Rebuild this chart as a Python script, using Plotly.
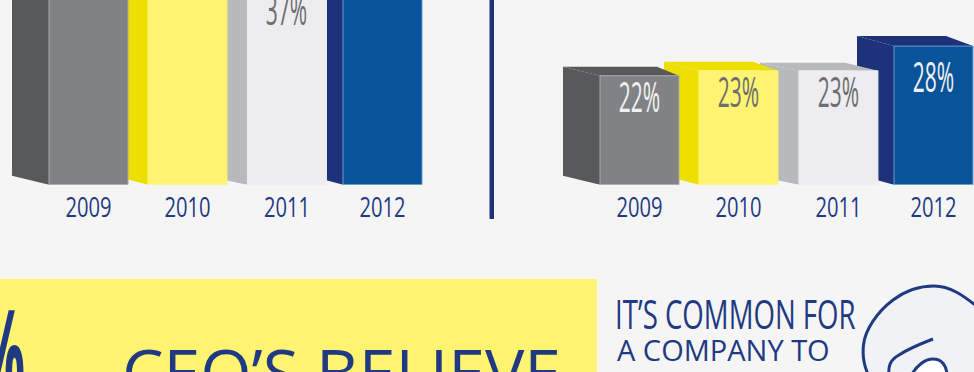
import json
import plotly.graph_objects as go

# Share of respondents per year, left and right panels
YEARS = [2009, 2010, 2011, 2012]
LEFT_VALUES = [41, 40, 37, 42]
RIGHT_VALUES = [22, 23, 23, 28]
LEFT_LABELS = [None, None, "37%", None]
RIGHT_LABELS = ["22%", "23%", "23%", "28%"]

# Small per-year shifts of the bars along the year axis
LEFT_SHIFT = [0.0, 0.01, 0.025, 0.0]
RIGHT_SHIFT = [0.0, 0.01, 0.03, 0.0]

FRONT = ["#808285", "#FFF471", "#EDEDF0", "#08549A"]
SIDE = ["#58595B", "#EDE000", "#B8B9BD", "#1D327A"]
EDGE = ["#A7A9AC", "#FFF471", "#EDEDF0", "#6F9BCB"]
TEXT_COLOR = ["#F1F1F2", "#6D6E71", "#6D6E71", "#F1F1F2"]
NAVY = "#1F3A82"
BG = "#F5F5F5"

W, H = 974, 372
BASE_PX = 184.7
PX_PER_YEAR = 98.0
BAR_PX = 79.0
DEPTH_LEFT_PX = [37, 35, 39, 37]
DEPTH_RIGHT_PX = [22, 25, 33, 27]
DEPTH_RISE_PX = [9, 9, 8, 10]
FONT = "Open Sans, sans-serif"

# Horizontal squeeze applied to text so it reads as a condensed face
SQUEEZE = {
    "2009": 0.72, "2010": 0.72, "2011": 0.72, "2012": 0.72,
    "22%": 0.5, "23%": 0.5, "28%": 0.5, "37%": 0.5,
    "IT’S COMMON FOR": 0.69,
    "%": 0.42,
}


def add_panel(fig, values, labels, drops, shift, scale, left_px, right_px, first_center_px, ax_base, ax_front):
    x_lo = YEARS[0] - (first_center_px - left_px) / PX_PER_YEAR
    x_hi = x_lo + (right_px - left_px) / PX_PER_YEAR
    y_hi = BASE_PX / scale
    dom_x = [left_px / W, right_px / W]
    dom_y = [(H - BASE_PX) / H, 1]
    half = BAR_PX / 2 / PX_PER_YEAR
    xs = [y + s for y, s in zip(YEARS, shift)]

    # Side and top faces, back to front so nearer boxes cover farther ones
    for i in reversed(range(4)):
        dl = DEPTH_LEFT_PX[i] / PX_PER_YEAR
        dr = DEPTH_RIGHT_PX[i] / PX_PER_YEAR
        rise = DEPTH_RISE_PX[i] / scale
        x0, x1 = xs[i] - half, xs[i] + half
        v = values[i]
        fig.add_trace(go.Scatter(
            x=[x0, x0, x0 - dl, x0 - dl, x0], y=[0, v, v + rise, rise, 0],
            mode="lines", fill="toself", fillcolor=SIDE[i], line=dict(width=0),
            hoverinfo="skip", showlegend=False,
            xaxis=ax_base[0], yaxis=ax_base[1]))
        fig.add_trace(go.Scatter(
            x=[x0, x1, x1 - dr, x0 - dl, x0], y=[v, v, v + rise, v + rise, v],
            mode="lines", fill="toself", fillcolor=SIDE[i], line=dict(width=0),
            hoverinfo="skip", showlegend=False,
            xaxis=ax_base[0], yaxis=ax_base[1]))

    # Front faces sit on an overlaid axis pair above the side faces
    fig.add_trace(go.Bar(
        x=xs, y=values, width=BAR_PX / PX_PER_YEAR,
        marker=dict(color=FRONT, line=dict(width=1, color=EDGE)),
        showlegend=False, xaxis=ax_front[0], yaxis=ax_front[1]))

    for name, overlay in ((ax_base, None), (ax_front, ax_base)):
        xkey = "xaxis" + name[0][1:]
        ykey = "yaxis" + name[1][1:]
        xa = dict(domain=dom_x, range=[x_lo, x_hi], anchor=name[1], showgrid=False,
                  zeroline=False, showline=False)
        ya = dict(domain=dom_y, range=[0, y_hi], anchor=name[0], showgrid=False,
                  zeroline=False, showline=False, visible=False)
        if overlay:
            xa.update(overlaying=overlay[0], visible=False)
            ya.update(overlaying=overlay[1])
        else:
            xa.update(tickmode="array", tickvals=xs, ticktext=[str(y) for y in YEARS],
                      ticks="", ticklabelstandoff=3,
                      tickfont=dict(family=FONT, size=28, color=NAVY, weight=500))
        fig.update_layout({xkey: xa, ykey: ya})

    # Value labels hang below each box top
    for i, text in enumerate(labels):
        if text is None:
            continue
        fig.add_annotation(
            x=xs[i], y=values[i] - drops[i] / scale, xref=ax_front[0], yref=ax_front[1], text=text,
            showarrow=False, yanchor="middle", xanchor="center",
            font=dict(family=FONT, size=42, color=TEXT_COLOR[i]))


fig = go.Figure()
add_panel(fig, LEFT_VALUES, LEFT_LABELS, [0, 0, 25, 0], LEFT_SHIFT, 5.45, 0, 480, 88.5, ("x", "y"), ("x2", "y2"))
add_panel(fig, RIGHT_VALUES, RIGHT_LABELS, [19.5, 19.5, 19.5, 29], RIGHT_SHIFT, 4.95, 500, 974, 639.5, ("x3", "y3"), ("x4", "y4"))


def px(x):
    return x / W


def py(y):
    return 1 - y / H


def outline(points):
    """Build a cubic path in paper coordinates from pixel triples."""
    start, *rest = points
    d = f"M{px(start[0]):.5f},{py(start[1]):.5f}"
    for k in range(0, len(rest), 3):
        a, b, c = rest[k:k + 3]
        d += f" C{px(a[0]):.5f},{py(a[1]):.5f} {px(b[0]):.5f},{py(b[1]):.5f} {px(c[0]):.5f},{py(c[1]):.5f}"
    return d


HEAD = [(871, 380), (864, 368), (862, 358), (863.5, 345), (865, 330), (877, 312), (893, 300),
        (905, 291), (920, 286), (934, 286), (950, 286), (963, 295), (980, 309)]
BROW = [(933, 339), (920, 344), (905, 351), (899, 355), (890, 360), (888, 366), (889, 376)]
EYE = [(911, 376), (916, 366), (925, 359), (933, 359), (942, 359), (947, 366), (947, 376)]

shapes = [
    dict(type="rect", xref="paper", yref="paper", x0=px(489.5), x1=px(494), y0=py(219), y1=py(0),
         fillcolor="#1D327A", line_width=0, layer="below"),
    dict(type="rect", xref="paper", yref="paper", x0=0, x1=px(597), y0=0, y1=py(279),
         fillcolor="#FFF471", line_width=0, layer="below"),
    dict(type="path", xref="paper", yref="paper", path=outline(HEAD) + " L1.02,-0.05 Z",
         fillcolor="#F1F2F5", line=dict(color=NAVY, width=3)),
    dict(type="path", xref="paper", yref="paper", path=outline(BROW),
         line=dict(color=NAVY, width=3)),
    dict(type="path", xref="paper", yref="paper", path=outline(EYE) + " Z",
         fillcolor="#FFFFFF", line=dict(color=NAVY, width=3)),
]
fig.update_layout(shapes=shapes)

fig.add_annotation(xref="paper", yref="paper", x=px(1), y=py(351), text="%", showarrow=False,
                   xanchor="center", yanchor="middle", font=dict(family=FONT, size=125, color=NAVY, weight=700))
fig.add_annotation(xref="paper", yref="paper", x=px(341), y=py(418), text="CEO’S BELIEVE", showarrow=False,
                   xanchor="center", yanchor="bottom", font=dict(family=FONT, size=66, color=NAVY))
fig.add_annotation(xref="paper", yref="paper", x=px(735), y=py(313), text="IT’S COMMON FOR", showarrow=False,
                   xanchor="center", yanchor="middle", font=dict(family=FONT, size=40, color=NAVY))
fig.add_annotation(xref="paper", yref="paper", x=px(723), y=py(349.5), text="A COMPANY TO", showarrow=False,
                   xanchor="center", yanchor="middle", font=dict(family=FONT, size=29, color=NAVY))

fig.update_layout(width=W, height=H, margin=dict(l=0, r=0, t=0, b=0), paper_bgcolor=BG,
                  plot_bgcolor="rgba(0,0,0,0)", barmode="overlay")

# Narrow the listed texts around their own centres once the page has drawn
squeeze_js = """
var squeeze = %s;
document.querySelectorAll('.xaxislayer-above text, .annotation-text').forEach(function (t) {
  var sx = squeeze[t.textContent];
  if (!sx) return;
  var b = t.getBBox(), cx = b.x + b.width / 2;
  var old = t.getAttribute('transform') || '';
  t.setAttribute('transform', old + ' translate(' + cx + ',0) scale(' + sx + ',1) translate(' + (-cx) + ',0)');
});
""" % json.dumps(SQUEEZE, ensure_ascii=False)
fig.write_html("out.html", post_script=squeeze_js)
